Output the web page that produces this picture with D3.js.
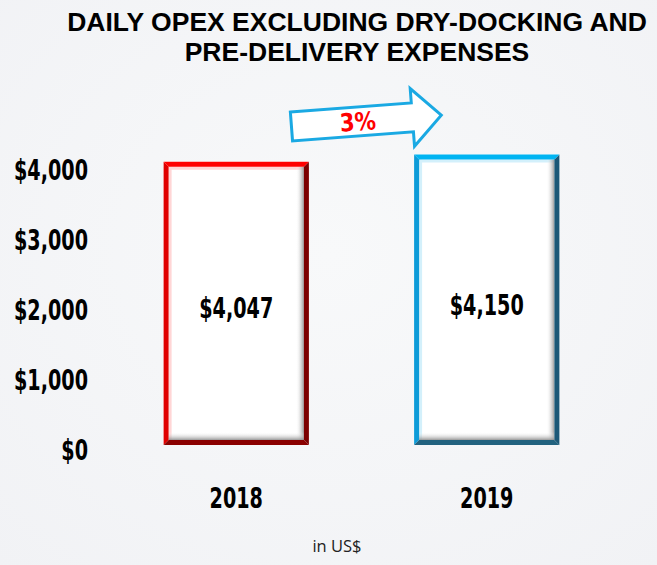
<!DOCTYPE html>
<html>
<head>
<meta charset="utf-8">
<script src="https://cdn.jsdelivr.net/npm/d3@7"></script>
<style>
  html, body { margin: 0; padding: 0; background: #f4f5f7; }
  svg { display: block; }
</style>
</head>
<body>
<script>
// Daily opex excluding dry-docking and pre-delivery expenses, US$ per day
const years = ["2018", "2019"];
const opex = [4047, 4150];
const tickValues = [0, 1000, 2000, 3000, 4000];
const tickLabels = ["$0", "$1,000", "$2,000", "$3,000", "$4,000"];
const changeLabel = "3%";
const titleLines = ["DAILY OPEX EXCLUDING DRY-DOCKING AND", "PRE-DELIVERY EXPENSES"];
const unitNote = "in US$";

// colour scheme per bar: top, left, right, bottom edges
const edgeColours = [
  { top: "#ff0000", left: "#e00000", right: "#7c0000", bottom: "#8a0606", tint: "#ffd6d6" },
  { top: "#00b4f2", left: "#0b9bd8", right: "#1a5877", bottom: "#23627f", tint: "#d3f0fb" }
];

const W = 657, H = 565;
const svg = d3.select("body").append("svg").attr("width", W).attr("height", H);

const defs = svg.append("defs");
const bg = defs.append("radialGradient").attr("id", "bg").attr("cx", "50%").attr("cy", "45%").attr("r", "75%");
bg.append("stop").attr("offset", "0%").attr("stop-color", "#f8f9fa");
bg.append("stop").attr("offset", "100%").attr("stop-color", "#f1f2f5");
svg.append("rect").attr("width", W).attr("height", H).attr("fill", "url(#bg)");

const soft = defs.append("filter").attr("id", "soft").attr("x", "-5%").attr("y", "-5%").attr("width", "110%").attr("height", "110%");
soft.append("feGaussianBlur").attr("stdDeviation", 0.55);

const shR = defs.append("linearGradient").attr("id", "shadeR").attr("x1", "0").attr("x2", "1").attr("y1", "0").attr("y2", "0");
shR.append("stop").attr("offset", "0%").attr("stop-color", "#ffffff").attr("stop-opacity", 0);
shR.append("stop").attr("offset", "100%").attr("stop-color", "#8e8e8e").attr("stop-opacity", 0.9);
const shB = defs.append("linearGradient").attr("id", "shadeB").attr("x1", "0").attr("x2", "0").attr("y1", "0").attr("y2", "1");
shB.append("stop").attr("offset", "0%").attr("stop-color", "#ffffff").attr("stop-opacity", 0);
shB.append("stop").attr("offset", "100%").attr("stop-color", "#8e8e8e").attr("stop-opacity", 0.9);

// scales
const x = d3.scaleBand().domain(years).range([111, 612]).paddingInner(0.42).paddingOuter(0.21);
const y = d3.scaleLinear().domain([0, 4500]).range([445, 130]);

const boldFont = "'DejaVu Sans', sans-serif";
const labelSize = "29px";

// narrow the bold labels horizontally so "$4,000" spans about 74px
let squeeze = 1;
(function () {
  const probe = svg.append("text").style("font-family", boldFont).style("font-weight", "bold")
    .style("font-size", labelSize).text("$4,000");
  squeeze = 74 / probe.node().getComputedTextLength();
  probe.remove();
})();
function condense(sel, k) {
  sel.each(function () {
    const w = this.getComputedTextLength();
    d3.select(this).attr("textLength", w * (k || squeeze)).attr("lengthAdjust", "spacingAndGlyphs");
  });
}

// title
svg.append("g").selectAll("text").data(titleLines).join("text")
  .attr("x", 357).attr("y", (d, i) => 31 + i * 30)
  .attr("text-anchor", "middle")
  .style("font-family", "'Liberation Sans', Arial, sans-serif")
  .style("font-weight", "bold").style("font-size", "26.5px").attr("fill", "#000")
  .text(d => d);

// y axis (labels only)
const yAxis = d3.axisLeft(y).tickValues(tickValues)
  .tickFormat((d, i) => tickLabels[i]).tickSize(0).tickPadding(0);
const gy = svg.append("g").attr("transform", "translate(88,5)").call(yAxis);
gy.select(".domain").remove();
gy.selectAll("text")
  .style("font-family", boldFont).style("font-weight", "bold").style("font-size", labelSize)
  .attr("fill", "#000").call(condense);

// x axis (labels only)
const xAxis = d3.axisBottom(x).tickSize(0).tickPadding(0);
const gx = svg.append("g").attr("transform", "translate(0,508)").call(xAxis);
gx.select(".domain").remove();
gx.selectAll("text")
  .attr("dy", 0)
  .style("font-family", boldFont).style("font-weight", "bold").style("font-size", labelSize)
  .attr("fill", "#000").call(condense);

// bars
const t = 5;
const bars = svg.append("g").selectAll("g").data(years.map((k, i) => ({ k, v: opex[i], c: edgeColours[i] })))
  .join("g").attr("filter", "url(#soft)");

bars.each(function (d) {
  const g = d3.select(this);
  const x0 = x(d.k), x1 = x0 + x.bandwidth();
  const y0 = y(d.v), y1 = y(0);
  g.append("rect").attr("x", x0).attr("y", y0).attr("width", x1 - x0).attr("height", y1 - y0).attr("fill", "#fff");
  // inner bevel shading
  g.append("rect").attr("x", x0 + t).attr("y", y0 + t).attr("width", x1 - x0 - 2 * t).attr("height", 3).attr("fill", d.c.tint);
  g.append("rect").attr("x", x0 + t).attr("y", y0 + t).attr("width", 3).attr("height", y1 - y0 - 2 * t).attr("fill", d.c.tint);
  g.append("rect").attr("x", x1 - t - 8).attr("y", y0 + t).attr("width", 8).attr("height", y1 - y0 - 2 * t).attr("fill", "url(#shadeR)");
  g.append("rect").attr("x", x0 + t).attr("y", y1 - t - 8).attr("width", x1 - x0 - 2 * t).attr("height", 8).attr("fill", "url(#shadeB)");
  // bevelled frame
  const poly = pts => pts.map(p => p.join(",")).join(" ");
  g.append("polygon").attr("points", poly([[x0, y0], [x0 + t, y0 + t], [x0 + t, y1 - t], [x0, y1]])).attr("fill", d.c.left);
  g.append("polygon").attr("points", poly([[x1, y0], [x1, y1], [x1 - t, y1 - t], [x1 - t, y0 + t]])).attr("fill", d.c.right);
  g.append("polygon").attr("points", poly([[x0, y1], [x0 + t, y1 - t], [x1 - t, y1 - t], [x1, y1]])).attr("fill", d.c.bottom);
  g.append("polygon").attr("points", poly([[x0, y0], [x1, y0], [x1 - t, y0 + t], [x0 + t, y0 + t]])).attr("fill", d.c.top);
});

// value labels inside bars
svg.append("g").selectAll("text").data(years.map((k, i) => ({ k, v: opex[i] }))).join("text")
  .attr("x", d => x(d.k) + x.bandwidth() / 2)
  .attr("y", d => (y(d.v) + y(0)) / 2 + 15)
  .attr("text-anchor", "middle")
  .style("font-family", boldFont).style("font-weight", "bold").style("font-size", labelSize)
  .attr("fill", "#000")
  .text(d => "$" + d3.format(",")(d.v))
  .call(condense);

// growth arrow between the two years
const ax = x(years[0]) + x.bandwidth() * 0.88;
const axEnd = x(years[1]) + x.bandwidth() * 0.19;
const len = axEnd - ax;
const arrowG = svg.append("g").attr("transform", `translate(${ax},126.5) rotate(-4.3)`);
const headL = 29, shaftH = 14.5, headH = 29;
arrowG.append("polygon")
  .attr("points", [[0, -shaftH], [len - headL, -shaftH], [len - headL, -headH], [len, 0],
                   [len - headL, headH], [len - headL, shaftH], [0, shaftH]].map(p => p.join(",")).join(" "))
  .attr("fill", "#fff").attr("stroke", "#1aa9e3").attr("stroke-width", 3).attr("stroke-linejoin", "miter");
arrowG.append("text")
  .attr("x", (len - headL) / 2 + 6).attr("y", 9)
  .attr("text-anchor", "middle")
  .style("font-family", boldFont).style("font-weight", "bold").style("font-size", "25px")
  .attr("fill", "#ff0000")
  .text(changeLabel)
  .call(condense, 0.85);

// unit note
svg.append("text").attr("x", 337).attr("y", 552).attr("text-anchor", "middle")
  .style("font-family", "'Open Sans', 'Noto Sans', sans-serif").style("font-size", "16.5px")
  .attr("fill", "#222").text(unitNote);
</script>
</body>
</html>
